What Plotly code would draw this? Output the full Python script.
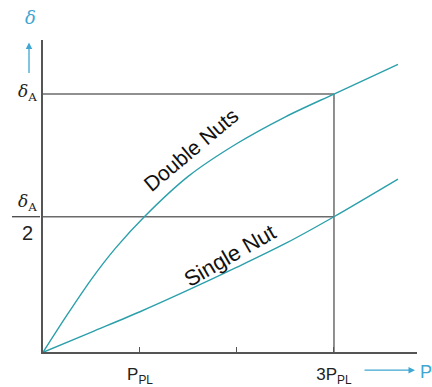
import plotly.graph_objects as go

# Data (x in units of P_PL, y in deflection units)
double_x = [0, 0.25, 0.5, 0.75, 1.05, 1.5, 2.0, 2.5, 3.0, 3.66]
double_y = [0, 38, 74, 105.5, 137.5, 178, 211, 238, 261, 291]
single_x = [0, 0.5, 1.0, 1.5, 2.0, 2.5, 3.0, 3.66]
single_y = [0, 20.5, 41, 63, 86, 110, 137, 175]
delta_A = 261
delta_A_half = 137
x_ticks = [1, 2, 3]
x_ticktext = ["P<sub>PL</sub>", "", "3P<sub>PL</sub>"]

W, H = 432, 387
CURVE = "#2ba0ab"
ACC = "#3fa7d2"
GRID = "#6b6b6b"
FONT = "Liberation Sans, Arial, sans-serif"


def px(x):
    return x / W


def py(y):
    return 1 - y / H


fig = go.Figure()
fig.add_trace(go.Scatter(x=double_x, y=double_y, mode="lines",
                         line=dict(color=CURVE, width=1.4, shape="spline", smoothing=0.8),
                         showlegend=False, cliponaxis=False, hoverinfo="skip"))
fig.add_trace(go.Scatter(x=single_x, y=single_y, mode="lines",
                         line=dict(color=CURVE, width=1.4, shape="spline", smoothing=0.8),
                         showlegend=False, cliponaxis=False, hoverinfo="skip"))

shapes = [
    dict(type="line", xref="x", yref="y", x0=0, x1=3, y0=delta_A, y1=delta_A,
         line=dict(color=GRID, width=1.5), layer="below"),
    dict(type="line", xref="x", yref="y", x0=0, x1=3, y0=delta_A_half, y1=delta_A_half,
         line=dict(color=GRID, width=1.5), layer="below"),
    dict(type="line", xref="x", yref="y", x0=3, x1=3, y0=0, y1=delta_A,
         line=dict(color=GRID, width=1.5), layer="below"),
    # fraction bar for delta_A / 2
    dict(type="line", xref="paper", yref="paper", x0=px(12), x1=px(40), y0=py(219), y1=py(219),
         line=dict(color="#333", width=1.2)),
]


def label(x, y, text, size, color, family=FONT, **kw):
    return dict(x=px(x), y=py(y), xref="paper", yref="paper", text=text, showarrow=False,
                xanchor="center", yanchor="middle",
                font=dict(family=family, size=size, color=color), **kw)


annotations = [
    # y axis label and arrow
    label(30, 18, "<i>δ</i>", 18, ACC, family="DejaVu Serif"),
    dict(x=px(29), y=py(43), xref="paper", yref="paper", ax=0, ay=32,
         text="", showarrow=True, arrowhead=2, arrowsize=1, arrowwidth=1.3, arrowcolor=ACC),
    # x axis label and arrow
    dict(x=px(415), y=py(374), xref="paper", yref="paper", ax=-52, ay=0,
         text="", showarrow=True, arrowhead=2, arrowsize=1, arrowwidth=1.3, arrowcolor=ACC),
    label(426, 376, "P", 18, ACC),
    # y labels
    label(27, 93, "<i>δ</i><sub>A</sub>", 17, "#222", family="DejaVu Serif"),
    label(27, 205, "<i>δ</i><sub>A</sub>", 17, "#222", family="DejaVu Serif"),
    label(27, 235, "2", 20, "#222"),
    # curve labels
    dict(x=(191 - 43) / 97, y=356 - 151, xref="x", yref="y", text="Double Nuts", showarrow=False,
         textangle=-40, font=dict(family=FONT, size=21, color="#111")),
    dict(x=(230 - 43) / 97, y=356 - 258, xref="x", yref="y", text="Single Nut", showarrow=False,
         textangle=-30, font=dict(family=FONT, size=22, color="#111")),
]

fig.update_layout(
    width=W, height=H,
    margin=dict(l=0, r=0, t=0, b=0),
    paper_bgcolor="white", plot_bgcolor="white",
    shapes=shapes, annotations=annotations, hovermode=False,
    xaxis=dict(domain=[43 / W, 417 / W], range=[0, 3.856], showgrid=False, zeroline=False,
               showline=True, linecolor="#555", linewidth=1.5,
               tickmode="array", tickvals=x_ticks, ticktext=x_ticktext,
               ticks="inside", ticklen=6, tickcolor="#555", tickwidth=1.2,
               ticklabelstandoff=6,
               tickfont=dict(family=FONT, size=17, color="#222")),
    yaxis=dict(domain=[(H - 356) / H, (H - 40) / H], range=[0, 316], showgrid=False,
               zeroline=False, showline=True, linecolor="#555", linewidth=1.5,
               showticklabels=False, ticks=""),
)

fig.write_html("out.html", config={"displayModeBar": False},
               post_script="document.body.style.margin='0';")
